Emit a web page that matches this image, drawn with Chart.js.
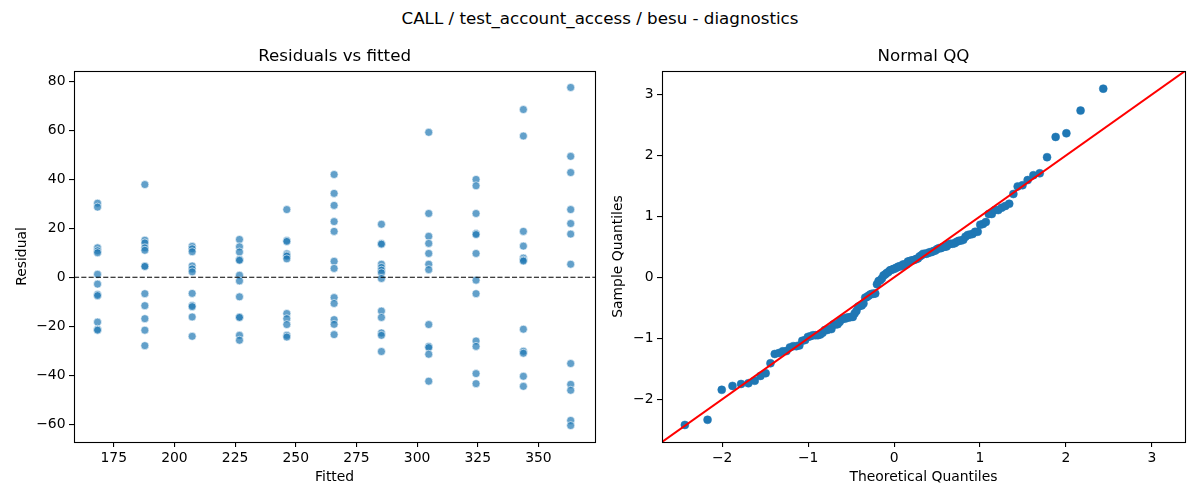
<!DOCTYPE html>
<html><head><meta charset="utf-8">
<script src="https://cdn.jsdelivr.net/npm/chart.js@4.4.1/dist/chart.umd.min.js"></script>
<style>
html,body{margin:0;padding:0;background:#fff;}
#wrap{position:relative;width:1200px;height:500px;overflow:hidden;background:#fff;}
#sup{position:absolute;left:0;top:8px;width:1200px;text-align:center;font-family:"DejaVu Sans";font-size:16.7px;line-height:20px;color:#000;}
.box{position:absolute;top:0;width:600px;height:500px;}
</style></head>
<body><div id="wrap">
<div id="sup">CALL / test_account_access / besu - diagnostics</div>
<div class="box" style="left:0"><canvas id="c1"></canvas></div>
<div class="box" style="left:600px"><canvas id="c2"></canvas></div>
</div>
<script>
// ---- data ----
const fittedLevels = [168.3, 187.8, 207.3, 226.8, 246.3, 265.8, 285.3, 304.8, 324.3, 343.8, 363.3];
const residualsByLevel = [
  [30.2, 28.6, 12.0, 10.8, 10.0, 1.2, -2.8, -7.0, -7.5, -18.3, -21.2, -21.6],
  [37.8, 15.1, 14.0, 12.0, 11.0, 4.6, 4.4, -6.7, -11.6, -16.9, -21.6, -27.9],
  [12.6, 11.6, 10.4, 4.6, 3.4, 2.2, -6.6, -11.5, -12.0, -16.2, -24.1],
  [15.4, 12.4, 10.3, 7.2, 6.9, 0.8, -1.5, -8.0, -16.2, -16.4, -23.7, -25.7],
  [27.6, 15.0, 14.6, 9.6, 9.0, 8.6, 7.5, -14.8, -16.9, -19.3, -23.7, -24.4],
  [41.9, 34.2, 29.3, 22.7, 18.7, 6.5, 3.6, -8.3, -10.7, -17.3, -19.2, -23.4],
  [21.6, 13.8, 13.5, 5.3, 4.0, 2.9, 1.8, -0.5, -13.8, -16.4, -22.7, -23.7, -30.3],
  [59.1, 26.0, 16.7, 13.8, 9.7, 5.3, 3.1, -19.3, -28.2, -28.7, -31.4, -42.4],
  [39.9, 37.3, 26.0, 17.8, 17.4, 9.7, -1.2, -6.7, -26.0, -28.2, -39.3, -43.4],
  [68.4, 57.6, 18.7, 12.7, 7.8, 7.0, 6.6, -21.2, -30.2, -31.0, -40.4, -44.5],
  [77.4, 49.3, 42.7, 27.6, 21.9, 17.6, 5.3, -35.2, -43.7, -46.1, -58.4, -60.5]
];
const qqTheoretical = [
  -2.434, -2.170, -2.005, -1.880, -1.780, -1.695, -1.621, -1.554, -1.494, -1.438,
  -1.388, -1.340, -1.295, -1.252, -1.212, -1.174, -1.137, -1.102, -1.068, -1.035,
  -1.003, -0.973, -0.943, -0.914, -0.886, -0.858, -0.831, -0.805, -0.779, -0.754,
  -0.729, -0.705, -0.681, -0.657, -0.634, -0.611, -0.589, -0.566, -0.544, -0.522,
  -0.501, -0.480, -0.459, -0.438, -0.417, -0.397, -0.376, -0.356, -0.336, -0.316,
  -0.297, -0.277, -0.257, -0.238, -0.219, -0.199, -0.180, -0.161, -0.142, -0.123,
  -0.104, -0.085, -0.066, -0.047, -0.028, -0.009,
  0.009, 0.028, 0.047, 0.066, 0.085, 0.104, 0.123, 0.142, 0.161, 0.180,
  0.199, 0.219, 0.238, 0.257, 0.277, 0.297, 0.316, 0.336, 0.356, 0.376,
  0.397, 0.417, 0.438, 0.459, 0.480, 0.501, 0.522, 0.544, 0.566, 0.589,
  0.611, 0.634, 0.657, 0.681, 0.705, 0.729, 0.754, 0.779, 0.805, 0.831,
  0.858, 0.886, 0.914, 0.943, 0.973, 1.003, 1.035, 1.068, 1.102, 1.137,
  1.174, 1.212, 1.252, 1.295, 1.340, 1.388, 1.438, 1.494, 1.554, 1.621,
  1.695, 1.780, 1.880, 2.005, 2.170, 2.434
];
const qqSample = [
  -2.420, -2.336, -1.844, -1.780, -1.748, -1.736, -1.696, -1.616, -1.572, -1.408,
  -1.256, -1.240, -1.212, -1.208, -1.148, -1.128, -1.128, -1.116, -1.040, -1.028,
  -0.976, -0.964, -0.948, -0.948, -0.948, -0.936, -0.908, -0.864, -0.864, -0.848,
  -0.848, -0.772, -0.772, -0.768, -0.732, -0.692, -0.676, -0.676, -0.656, -0.656,
  -0.648, -0.648, -0.592, -0.552, -0.480, -0.464, -0.460, -0.428, -0.332, -0.320,
  -0.300, -0.280, -0.268, -0.268, -0.264, -0.112, -0.060, -0.048, -0.020,
  0.032, 0.048, 0.072, 0.088, 0.116, 0.124, 0.136, 0.144, 0.160, 0.176,
  0.184, 0.184, 0.212, 0.212, 0.212, 0.260, 0.264, 0.276, 0.280, 0.288,
  0.300, 0.312, 0.344, 0.360, 0.384, 0.388, 0.388, 0.400, 0.412, 0.416,
  0.432, 0.440, 0.464, 0.480, 0.480, 0.496, 0.504, 0.508, 0.540, 0.552,
  0.552, 0.560, 0.584, 0.600, 0.604, 0.616, 0.668, 0.696, 0.704, 0.712,
  0.748, 0.748, 0.864, 0.876, 0.908, 1.040, 1.040, 1.104, 1.104, 1.144,
  1.172, 1.208, 1.368, 1.492, 1.512, 1.596, 1.676, 1.708, 1.972, 2.304,
  2.364, 2.736, 3.096
];
const residTicksX = [175, 200, 225, 250, 275, 300, 325, 350];
const residTicksY = [-60, -40, -20, 0, 20, 40, 60, 80];
const qqTicksX = [-2, -1, 0, 1, 2, 3];
const qqTicksY = [-2, -1, 0, 1, 2, 3];
const residRefLevel = 0;

// axis limits
const residXLim = [158.6, 373.4];
const residYLim = [-67.2, 84.1];
const qqLim = [-2.70, 3.385];

// ---- build ----
const FONT = 'DejaVu Sans';
const residPoints = [];
fittedLevels.forEach((f, i) => residualsByLevel[i].forEach(r => residPoints.push({x: f, y: r})));
const qqPoints = qqTheoretical.map((t, i) => ({x: t, y: qqSample[i]}));
const fmt = v => String(v).replace('-', '\u2212');

const framePlugin = {
  id: 'frame',
  afterDraw(chart) {
    const a = chart.chartArea, c = chart.ctx;
    c.save();
    c.strokeStyle = '#000';
    c.lineWidth = 1.1;
    c.strokeRect(Math.round(a.left) + 0.5, Math.round(a.top) + 0.5, Math.round(a.right - a.left), Math.round(a.bottom - a.top));
    c.restore();
  }
};

function axis(lim, ticks, title, horizontal, size, titlePad) {
  return {
    type: 'linear',
    min: lim[0], max: lim[1],
    afterBuildTicks: s => { s.ticks = ticks.map(v => ({value: v})); },
    afterFit: s => {
      if (horizontal) s.height = size; else s.width = size;
      s.paddingLeft = 0; s.paddingRight = 0; s.paddingTop = 0; s.paddingBottom = 0;
    },
    grid: {display: true, drawOnChartArea: false, drawTicks: true, tickLength: 5, color: '#000', lineWidth: 1.1},
    border: {display: false},
    ticks: {font: {family: FONT, size: 13.9}, color: '#000', padding: 3.5, maxRotation: 0, autoSkip: false, callback: v => fmt(v)},
    title: {display: true, text: title, font: {family: FONT, size: 13.9}, color: '#000', padding: titlePad}
  };
}

function baseOptions(titleText, padRight) {
  return {
    responsive: true,
    maintainAspectRatio: false,
    animation: false,
    events: [],
    layout: {padding: {top: 46.5, right: padRight, bottom: 0, left: 0}},
    plugins: {
      legend: {display: false},
      tooltip: {enabled: false},
      title: {display: true, text: titleText, fullSize: false, font: {family: FONT, size: 16.7, weight: 'normal'}, color: '#000', padding: {top: 0, bottom: 4.5}}
    }
  };
}

const opt1 = baseOptions('Residuals vs fitted', 2);
opt1.scales = {
  x: axis(residXLim, residTicksX, 'Fitted', true, 58, {top: 0, bottom: 14.6}),
  y: axis(residYLim, residTicksY, 'Residual', false, 74, {top: 13.65, bottom: 0})
};
new Chart(document.getElementById('c1'), {
  type: 'scatter',
  data: {datasets: [
    {data: [{x: residXLim[0], y: residRefLevel}, {x: residXLim[1], y: residRefLevel}], showLine: true, pointRadius: 0,
     borderColor: '#000', borderWidth: 1.2, borderDash: [5.1, 2.2], order: 0},
    {data: residPoints, pointRadius: 4, pointBackgroundColor: 'rgba(31,119,180,0.7)',
     pointBorderColor: 'rgba(255,255,255,0.75)', pointBorderWidth: 0.8, order: 1}
  ]},
  options: opt1,
  plugins: [framePlugin]
});

const opt2 = baseOptions('Normal QQ', 15);
opt2.scales = {
  x: axis(qqLim, qqTicksX, 'Theoretical Quantiles', true, 58, {top: 0, bottom: 14.6}),
  y: axis(qqLim, qqTicksY, 'Sample Quantiles', false, 62, {top: 9.65, bottom: 0})
};
new Chart(document.getElementById('c2'), {
  type: 'scatter',
  data: {datasets: [
    {data: [{x: qqLim[0], y: qqLim[0]}, {x: qqLim[1], y: qqLim[1]}], showLine: true, pointRadius: 0,
     borderColor: '#ff0000', borderWidth: 2, order: 0},
    {data: qqPoints, pointRadius: 4, pointBackgroundColor: '#1f77b4',
     pointBorderColor: '#1f77b4', pointBorderWidth: 0.5, order: 1}
  ]},
  options: opt2,
  plugins: [framePlugin]
});
</script>
</body></html>
